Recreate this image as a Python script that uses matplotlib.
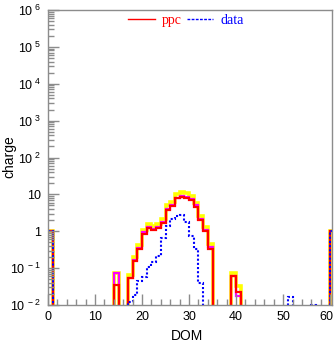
import numpy as np
import matplotlib
matplotlib.use("Agg")
import matplotlib.pyplot as plt
from matplotlib.lines import Line2D
from matplotlib.ticker import FixedLocator, FixedFormatter, NullFormatter
import matplotlib.transforms as mtrans

plt.rcParams['mathtext.fontset'] = 'custom'
plt.rcParams['mathtext.rm'] = 'Liberation Sans'
plt.rcParams['mathtext.it'] = 'Liberation Sans'
plt.rcParams['font.family'] = ['Liberation Sans', 'DejaVu Sans']

# DOM bins 0..60, edges 0..61
nbins = 61
edges = np.arange(nbins + 1)

# sparse bin values: {bin: value}
ppc_bins = [0, 14, 17, 18, 19, 20, 21, 22, 23, 24, 25, 26, 27, 28, 29, 30, 31, 32, 33, 34, 39, 40, 60]
ppc_vals = [1.0, 0.035, 0.053, 0.16, 0.34, 0.85, 1.22, 1.07, 1.25, 1.7, 3.8, 4.9, 7.8, 8.6, 8.1, 7.0,
            4.6, 2.0, 1.0, 0.34, 0.061, 0.022, 1.0]
mag_vals = [1.0, 0.072, 0.055, 0.17, 0.36, 0.97, 1.3, 1.12, 1.32, 1.8, 4.0, 5.2, 8.2, 9.0, 8.6, 7.5,
            5.0, 2.2, 1.1, 0.37, 0.062, 0.018, 1.0]
yel_vals = [1.0, 0.075, 0.065, 0.2, 0.42, 1.1, 1.6, 1.4, 1.6, 2.2, 5.0, 6.4, 10.2, 11.5, 11.0, 9.2,
            6.0, 2.6, 1.3, 0.44, 0.072, 0.033, 1.0]

data_bins = [0, 17, 18, 19, 20, 21, 22, 23, 24, 25, 26, 27, 28, 29, 30, 31, 32, 51, 56, 60]
data_vals = [1.0, 0.012, 0.019, 0.045, 0.058, 0.11, 0.15, 0.21, 0.66, 1.4, 2.2, 2.65, 2.7, 1.75,
             0.74, 0.32, 0.039, 0.016, 0.0102, 1.0]

def fill(bins, vals):
    h = np.zeros(nbins)
    h[np.array(bins)] = vals
    return h

ppc = fill(ppc_bins, ppc_vals)
mag = fill(ppc_bins, mag_vals)
yel = fill(ppc_bins, yel_vals)
data = fill(data_bins, data_vals)

fig = plt.figure(figsize=(3.35, 3.42), dpi=100)
ax = fig.add_axes([48/335, 1 - 305/342, 284/335, 295/342])
ax.set_yscale('log', nonpositive='clip')

ax.stairs(yel, edges, color='#ffff00', lw=2.6, baseline=None)
ax.stairs(mag, edges, color='#ff00ff', lw=1.6, baseline=None)
ax.stairs(ppc, edges, color='#ff0000', lw=1.6, baseline=None)
ax.stairs(data, edges, color='#0000ff', lw=1.5, ls=(0, (1, 1)), baseline=None)

ax.set_xlim(0, 60.4)
ax.set_ylim(1e-2, 1e6)

gray = '#8c8c8c'
for s in ax.spines.values():
    s.set_color(gray)
    s.set_linewidth(1.0)

ax.xaxis.set_major_locator(FixedLocator([0, 10, 20, 30, 40, 50, 60]))
ax.xaxis.set_minor_locator(FixedLocator(np.arange(0, 61, 2)))
exps = list(range(-2, 7))
ylabels = []
for e in exps:
    if e == 0:
        ylabels.append('1')
    elif e == 1:
        ylabels.append('10')
    else:
        ylabels.append(r'$10^{\ %d}$' % e)
ax.yaxis.set_major_locator(FixedLocator([10.0**e for e in exps]))
ax.yaxis.set_major_formatter(FixedFormatter(ylabels))
ax.yaxis.set_minor_locator(FixedLocator([m * 10.0**e for e in range(-2, 6) for m in range(2, 10)]))
ax.yaxis.set_minor_formatter(NullFormatter())

ax.tick_params(which='both', direction='in', color=gray, labelsize=9, top=False, right=False)
ax.tick_params(which='major', length=8, width=1)
ax.tick_params(which='minor', length=4, width=1)
ax.tick_params(axis='x', pad=4)
ax.tick_params(axis='y', pad=5)

# shift the last x tick label slightly left so it stays inside the figure
fig.canvas.draw()
xt = ax.get_xticklabels()
xt[-1].set_transform(xt[-1].get_transform() + mtrans.ScaledTranslation(-4/100, 0, fig.dpi_scale_trans))

ax.set_xlabel('DOM', fontsize=10)
ax.xaxis.set_label_coords((187 - 48) / 284, -(329 - 305) / 295)
ax.set_ylabel('charge', fontsize=10)
ax.yaxis.set_label_coords((16 - 48) / 284, (305 - 157) / 295)

handles = [Line2D([], [], color='#ff0000', lw=1.0),
           Line2D([], [], color='#0000ff', lw=1.0, ls=(0, (2, 1)))]
leg = ax.legend(handles, ['ppc', 'data'], ncol=2, frameon=False, loc='center',
                bbox_to_anchor=(0.486, 0.966), prop={'family': 'Liberation Serif', 'size': 10},
                handlelength=1.9, handletextpad=0.5, columnspacing=0.4, labelcolor='linecolor')

fig.savefig('out.png', dpi=100)
